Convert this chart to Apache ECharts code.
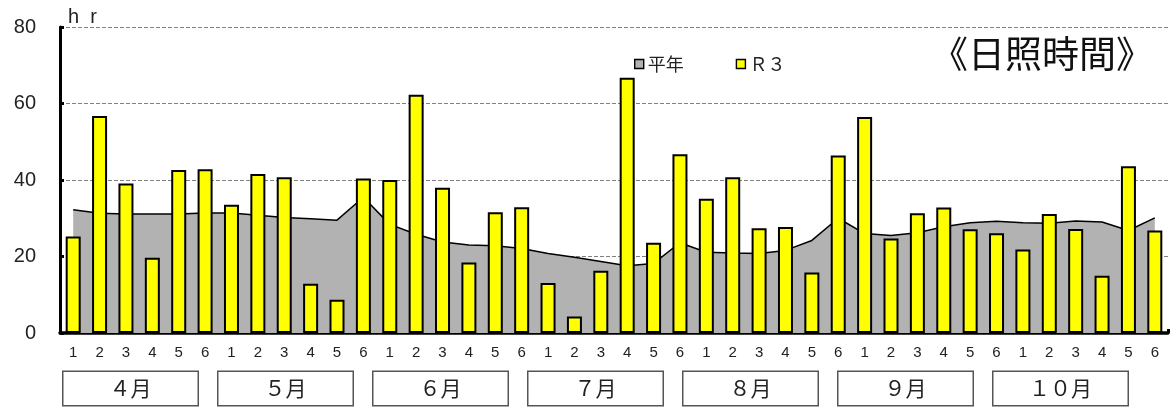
<!DOCTYPE html>
<html>
<head>
<meta charset="utf-8">
<script src="https://cdn.jsdelivr.net/npm/echarts@6/dist/echarts.min.js"></script>
<style>
html,body{margin:0;padding:0;background:#fff;}
#chart{width:1171px;height:412px;}
</style>
</head>
<body>
<div id="chart"></div>
<script>
// Tick labels
const periodLabels = ['1', '2', '3', '4', '5', '6'];
const months = ['４月', '５月', '６月', '７月', '８月', '９月', '１０月'];
const yTicks = [0, 20, 40, 60, 80];

// Series values (hours of sunshine per half-month period)
const normalValues = [
  32.2, 31.3, 31.1, 31.1, 31.1, 31.4,
  31.4, 30.8, 30.2, 29.9, 29.5, 35.5,
  28.4, 25.8, 23.8, 23.0, 22.8, 22.1,
  20.8, 19.8, 18.7, 17.6, 18.2, 23.6,
  21.1, 20.9, 20.8, 21.6, 24.2, 30.0,
  26.0, 25.5, 26.2, 27.8, 28.8, 29.2,
  28.8, 28.7, 29.3, 29.0, 26.8, 30.1
];
const r3Values = [
  25.2, 56.7, 39.1, 19.7, 42.6, 42.8,
  33.5, 41.6, 40.7, 12.9, 8.7, 40.4,
  40.0, 62.3, 38.0, 18.4, 31.6, 32.9,
  13.1, 4.3, 16.3, 66.7, 23.6, 46.7,
  35.1, 40.7, 27.4, 27.7, 15.8, 46.4,
  56.5, 24.7, 31.3, 32.8, 27.1, 26.1,
  21.8, 31.1, 27.2, 15.0, 43.6, 26.8
];
const seriesNames = ['平年', 'Ｒ３'];
const titleText = '《日照時間》';
const unitText = 'h  r';

const categories = [];
months.forEach(function () {
  periodLabels.forEach(function (p) { categories.push(p); });
});

const chart = echarts.init(document.getElementById('chart'), null, {renderer: 'canvas'});
const baseFont = '"Liberation Sans", Arial, sans-serif';
const cjkFont = '"Noto Sans CJK JP", sans-serif';

chart.setOption({
  animation: false,
  backgroundColor: '#ffffff',
  title: {
    text: titleText,
    left: 926,
    top: 30,
    textStyle: {fontFamily: cjkFont, fontSize: 37, fontWeight: 'normal', color: '#111'}
  },
  legend: {
    left: 629,
    top: 50,
    itemWidth: 9,
    itemHeight: 9,
    itemGap: 52,
    textStyle: {fontFamily: cjkFont, fontSize: 18, color: '#222', padding: [0, 0, 0, -1]},
    data: [
      {name: seriesNames[0], icon: 'rect', itemStyle: {color: '#b2b2b2', borderColor: '#000', borderWidth: 1.4}},
      {name: seriesNames[1], icon: 'rect', itemStyle: {color: '#ffff00', borderColor: '#000', borderWidth: 1.4}}
    ]
  },
  grid: [
    {left: 60, right: 3, top: 27, bottom: 79},
    {left: 53, right: 33, top: 340, height: 1}
  ],
  xAxis: [
    {
      type: 'category',
      gridIndex: 0,
      data: categories,
      boundaryGap: true,
      axisLine: {lineStyle: {color: '#000', width: 3.5}},
      axisTick: {show: true, inside: true, length: 4, lineStyle: {color: '#000', width: 3}},
      axisLabel: {interval: 0, margin: 12, fontFamily: baseFont, fontSize: 15, color: '#222'},
      splitLine: {show: false}
    },
    {
      type: 'category',
      gridIndex: 1,
      data: months,
      axisLine: {show: false},
      axisTick: {show: false},
      axisLabel: {
        interval: 0,
        margin: 31,
        fontFamily: cjkFont,
        fontSize: 21,
        color: '#222',
        width: 134,
        height: 33,
        lineHeight: 33,
        align: 'center',
        backgroundColor: '#fff',
        borderColor: '#555',
        borderWidth: 1.5
      }
    }
  ],
  yAxis: [
    {
      type: 'value',
      gridIndex: 0,
      min: yTicks[0],
      max: yTicks[yTicks.length - 1],
      interval: yTicks[1] - yTicks[0],
      name: unitText,
      nameLocation: 'end',
      nameGap: 0,
      nameTextStyle: {fontFamily: baseFont, fontSize: 20, color: '#222', align: 'left', padding: [0, 0, 0, 8]},
      axisLine: {show: true, lineStyle: {color: '#000', width: 3}},
      axisTick: {show: true, inside: true, length: 4, lineStyle: {color: '#000', width: 3}},
      axisLabel: {margin: 24, fontFamily: baseFont, fontSize: 20, color: '#222'},
      splitLine: {show: true, lineStyle: {color: '#808080', width: 1, type: [4, 2]}}
    },
    {type: 'value', gridIndex: 1, show: false}
  ],
  series: [
    {
      name: seriesNames[0],
      type: 'line',
      xAxisIndex: 0,
      yAxisIndex: 0,
      data: normalValues,
      showSymbol: false,
      symbol: 'none',
      z: 1,
      lineStyle: {color: '#000', width: 1.5},
      itemStyle: {color: '#b2b2b2'},
      areaStyle: {color: '#b2b2b2', opacity: 1}
    },
    {
      name: seriesNames[1],
      type: 'bar',
      xAxisIndex: 0,
      yAxisIndex: 0,
      data: r3Values,
      barWidth: 15,
      z: 3,
      itemStyle: {color: '#ffff00', borderColor: '#000', borderWidth: 2}
    }
  ]
});
</script>
</body>
</html>
